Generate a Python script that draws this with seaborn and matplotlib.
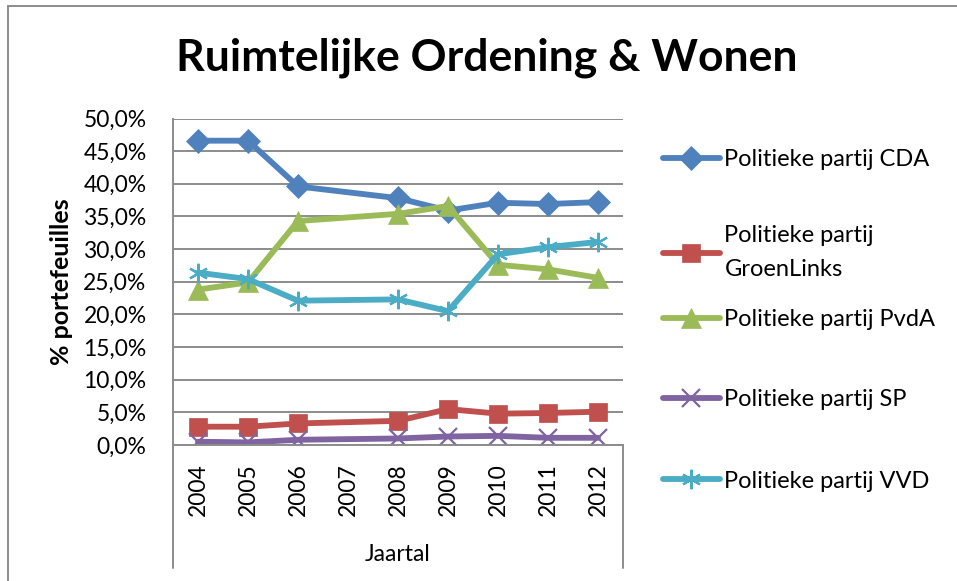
import seaborn as sns
import matplotlib.pyplot as plt
import numpy as np
import pandas as pd
from matplotlib.lines import Line2D
from matplotlib.ticker import FuncFormatter

# values (percent), 2007 has no data
years = [2004, 2005, 2006, 2007, 2008, 2009, 2010, 2011, 2012]
cda = [46.6, 46.6, 39.6, np.nan, 37.8, 35.9, 37.1, 36.9, 37.2]
groenlinks = [2.8, 2.8, 3.3, np.nan, 3.7, 5.5, 4.8, 4.9, 5.1]
pvda = [23.8, 24.9, 34.3, np.nan, 35.4, 36.6, 27.6, 26.9, 25.6]
sp = [0.5, 0.4, 0.8, np.nan, 1.0, 1.3, 1.4, 1.1, 1.1]
vvd = [26.4, 25.4, 22.1, np.nan, 22.3, 20.5, 29.2, 30.3, 31.1]

parties = ['Politieke partij CDA', 'Politieke partij GroenLinks',
           'Politieke partij PvdA', 'Politieke partij SP', 'Politieke partij VVD']
colors = ['#4F81BD', '#C0504D', '#9BBB59', '#8064A2', '#4BACC6']
markers = ['D', 's', '^', 'x', (6, 2, 0)]
msizes = [12, 13, 14, 13, 14]

df = pd.DataFrame({'Jaartal': years, parties[0]: cda, parties[1]: groenlinks,
                   parties[2]: pvda, parties[3]: sp, parties[4]: vvd})
long = df.melt(id_vars='Jaartal', var_name='partij', value_name='pct').dropna()

sns.set_style('white')
plt.rcParams['font.family'] = ['Lato', 'DejaVu Sans']
plt.rcParams['text.color'] = 'black'
plt.rcParams['axes.labelcolor'] = 'black'

fig = plt.figure(figsize=(9.57, 5.81), dpi=100)
ax = fig.add_axes([173 / 957, 1 - 445 / 581, 450 / 957, 326.5 / 581])

for party, col, mk, ms in zip(parties, colors, markers, msizes):
    sub = long[long['partij'] == party]
    sns.lineplot(data=sub, x='Jaartal', y='pct', ax=ax, color=col, linewidth=4.2,
                 marker=mk, markersize=ms, markeredgecolor=col, markerfacecolor=col,
                 markeredgewidth=1.6 if mk in ('x', (6, 2, 0)) else 0.5, label=party)

ax.set_xlim(2003.5, 2012.5)
ax.set_ylim(0, 50)
ax.set_yticks(np.arange(0, 51, 5))
ax.yaxis.set_major_formatter(FuncFormatter(lambda v, p: f'{v:.1f}%'.replace('.', ',')))
ax.set_xticks(years)
ax.set_xticklabels([str(y) for y in years], rotation=90)
ax.tick_params(axis='both', length=0, labelsize=16.5, colors='black')
ax.tick_params(axis='y', pad=19)
ax.tick_params(axis='x', pad=13)
ax.grid(axis='y', color='#8c8c8c', linewidth=1.4)
ax.set_axisbelow(True)
for s in ['top', 'right']:
    ax.spines[s].set_visible(False)
ax.spines['left'].set_color('#8c8c8c')
ax.spines['left'].set_linewidth(1.4)
ax.spines['bottom'].set_color('#8c8c8c')
ax.spines['bottom'].set_linewidth(1.4)

# category axis box below the plot
ax.axvline(2003.5, ymin=-0.377, ymax=0, color='#8c8c8c', linewidth=1.4, clip_on=False)
ax.axvline(2012.5, ymin=-0.377, ymax=0, color='#8c8c8c', linewidth=1.4, clip_on=False)

ax.set_xlabel('Jaartal', fontsize=16.5, labelpad=20)
ax.set_ylabel('% portefeuilles', fontsize=18, fontweight='bold')
ax.yaxis.set_label_coords(-100 / 450, 0.5)

fig.suptitle('Ruimtelijke Ordening & Wonen', fontsize=32, fontweight='bold',
             x=487 / 957, y=1 - 58 / 581, va='center', color='black')

# legend, one entry per row like the Excel layout
handles, labels = ax.get_legend_handles_labels()
ax.get_legend().remove()
rows = [160, 240, 320, 400, 481]
for h, lab, yy in zip(handles, labels, rows):
    two = 'GroenLinks' in lab
    txt = lab.replace('partij GroenLinks', 'partij\nGroenLinks')
    lg = fig.legend([h], [txt], loc='upper left' if two else 'center left',
                    bbox_to_anchor=(663 / 957, 1 - ((yy - 15) if two else yy) / 581),
                    frameon=False, fontsize=17, handlelength=2.4, handletextpad=0.2,
                    borderpad=0, borderaxespad=0)
    for t in lg.get_texts():
        t.set_linespacing(1.75)

# chart frame (left and top edges visible)
fig.add_artist(Line2D([8 / 957, 8 / 957], [0, 1 - 6 / 581], color='#8c8c8c', linewidth=1.4))
fig.add_artist(Line2D([8 / 957, 1], [1 - 6 / 581, 1 - 6 / 581], color='#8c8c8c', linewidth=1.4))

fig.savefig('out.png', dpi=100)
